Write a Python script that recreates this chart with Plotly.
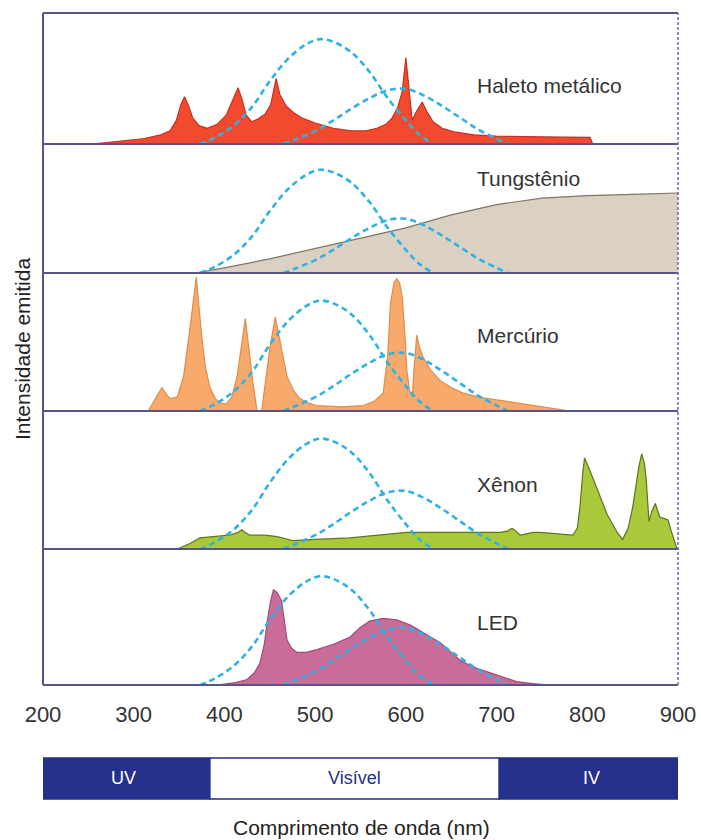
import plotly.graph_objects as go

# ---------------- data ----------------
haleto_nm = [254, 280, 310, 330, 340, 347, 352, 356, 360, 365, 372, 381, 392, 402, 409, 415, 419, 424, 430, 437,
             445, 451, 457, 461, 468, 476, 485, 500, 520, 540, 556, 568, 578, 585, 591, 596, 600, 603, 607, 611,
             618, 623, 630, 640, 655, 675, 700, 750, 803, 806]
haleto_val = [0, 0.02, 0.04, 0.07, 0.10, 0.18, 0.30, 0.36, 0.30, 0.20, 0.14, 0.12, 0.15, 0.22, 0.33, 0.43, 0.35, 0.22,
              0.17, 0.19, 0.23, 0.30, 0.50, 0.38, 0.29, 0.24, 0.20, 0.16, 0.12, 0.10, 0.10, 0.12, 0.15, 0.20, 0.28,
              0.40, 0.66, 0.45, 0.18, 0.24, 0.32, 0.25, 0.17, 0.12, 0.09, 0.07, 0.06, 0.055, 0.05, 0]

tung_nm = [368, 400, 450, 500, 550, 600, 650, 700, 750, 800, 850, 900]
tung_val = [0, 0.04, 0.11, 0.19, 0.27, 0.35, 0.45, 0.53, 0.58, 0.60, 0.61, 0.62]

merc_nm = [316, 325, 331, 336, 340, 348, 355, 362, 369, 372, 375, 379, 384, 390, 395, 402, 408, 414, 419, 423,
           427, 431, 436, 441, 445, 450, 456, 460, 464, 469, 476, 483, 492, 502, 530, 553, 565, 575, 580, 583,
           587, 590, 593, 596, 599, 601, 604, 607, 609, 612, 615, 619, 628, 638, 650, 663, 680, 700, 720, 737,
           760, 781]
merc_val = [0, 0.10, 0.17, 0.12, 0.09, 0.10, 0.25, 0.60, 0.97, 0.75, 0.54, 0.32, 0.17, 0.09, 0.06, 0.05, 0.10, 0.25,
            0.50, 0.67, 0.45, 0.22, 0, 0, 0.20, 0.45, 0.68, 0.55, 0.40, 0.25, 0.15, 0.09, 0.06, 0.04, 0.03, 0.04,
            0.07, 0.13, 0.40, 0.78, 0.93, 0.96, 0.93, 0.83, 0.55, 0.30, 0.15, 0.10, 0.30, 0.55, 0.46, 0.39, 0.29,
            0.22, 0.17, 0.13, 0.10, 0.08, 0.06, 0.04, 0.02, 0]

xen_nm = [348, 362, 373, 390, 405, 415, 419, 423, 428, 445, 458, 476, 500, 538, 570, 601, 650, 704, 712, 717,
          721, 726, 733, 740, 748, 765, 784, 789, 792, 795, 797, 801, 807, 814, 822, 833, 839, 845, 850, 853,
          857, 860, 863, 865, 868, 871, 875, 878, 880, 885, 889, 893, 896, 899]
xen_val = [0, 0.04, 0.08, 0.09, 0.10, 0.12, 0.14, 0.12, 0.10, 0.10, 0.09, 0.06, 0.07, 0.08, 0.10, 0.12, 0.12, 0.12,
           0.13, 0.15, 0.13, 0.10, 0.11, 0.12, 0.12, 0.11, 0.10, 0.15, 0.31, 0.55, 0.66, 0.60, 0.50, 0.39, 0.25,
           0.12, 0.07, 0.15, 0.30, 0.43, 0.60, 0.69, 0.62, 0.50, 0.20, 0.27, 0.33, 0.27, 0.23, 0.22, 0.21, 0.12,
           0.05, 0]

led_nm = [392, 410, 425, 433, 439, 444, 447, 451, 454, 458, 463, 466, 469, 474, 480, 490, 502, 520, 538, 549,
          560, 575, 590, 605, 620, 638, 650, 660, 675, 693, 710, 722, 740, 759]
led_val = [0, 0.015, 0.04, 0.09, 0.16, 0.30, 0.46, 0.62, 0.70, 0.68, 0.62, 0.48, 0.33, 0.27, 0.24, 0.24, 0.26,
           0.30, 0.35, 0.42, 0.47, 0.49, 0.48, 0.44, 0.38, 0.31, 0.24, 0.18, 0.13, 0.09, 0.05, 0.025, 0.01, 0]

# eye sensitivity curves (dashed), same in every panel
sens1_nm = [373, 390, 410, 430, 450, 470, 490, 505, 520, 540, 560, 580, 600, 615, 630]
sens1_val = [0, 0.05, 0.14, 0.28, 0.48, 0.65, 0.76, 0.80, 0.78, 0.70, 0.55, 0.35, 0.18, 0.07, 0]
sens2_nm = [465, 480, 500, 520, 540, 560, 580, 600, 620, 640, 660, 680, 700, 712]
sens2_val = [0, 0.04, 0.10, 0.18, 0.27, 0.35, 0.41, 0.42, 0.37, 0.29, 0.20, 0.11, 0.04, 0]

lamp_names = ["Haleto metálico", "Tungstênio", "Mercúrio", "Xênon", "LED"]
tick_vals = [200, 300, 400, 500, 600, 700, 800, 900]
band_edges = [193, 384, 703, 907]
band_labels = ["UV", "Visível", "IV"]

# ---------------- styling ----------------
series = [(haleto_nm, haleto_val), (tung_nm, tung_val), (merc_nm, merc_val), (xen_nm, xen_val), (led_nm, led_val)]
fills = ["#f24a2e", "#dad1c2", "#f8aa6c", "#a9c93a", "#c96c9a"]
edges = ["#c9301c", "#7d7565", "#df8c48", "#5e7420", "#a44a7c"]
TOP, BOT = 13, 685
H = BOT - TOP
bounds_px = [13, 144, 273, 411, 549, 685]
domains = []
for i in range(5):
    domains.append([(BOT - bounds_px[i + 1]) / H, (BOT - bounds_px[i]) / H])

FRAME = "#55558a"
DASHC = "#2fb2e2"
NAVY = "#24308c"
FONT = "Liberation Sans, Arial, sans-serif"

fig = go.Figure()
for i, ((xs, ys), fc, ec) in enumerate(zip(series, fills, edges)):
    yax = "y" if i == 0 else f"y{i+1}"
    fig.add_trace(go.Scatter(x=xs, y=ys, yaxis=yax, xaxis="x", mode="lines", fill="tozeroy",
                             fillcolor=fc, line=dict(color=ec, width=1.2), hoverinfo="skip"))
for i in range(5):
    yax = "y" if i == 0 else f"y{i+1}"
    for xs, ys in [(sens1_nm, sens1_val), (sens2_nm, sens2_val)]:
        fig.add_trace(go.Scatter(x=xs, y=ys, yaxis=yax, xaxis="x", mode="lines",
                                 line=dict(color=DASHC, width=2.6, dash="6px,4px", shape="spline", smoothing=1.0),
                                 hoverinfo="skip"))

layout = dict(
    width=701, height=840,
    margin=dict(l=43, r=23, t=13, b=155, autoexpand=False),
    paper_bgcolor="white", plot_bgcolor="white",
    showlegend=False,
    xaxis=dict(range=[200, 900], anchor="y5", domain=[0, 1], showgrid=False, zeroline=False,
               showline=False, tickvals=tick_vals, ticks="", ticklabelstandoff=14, automargin=False,
               tickfont=dict(family=FONT, size=22, color="#333333")),
)
for i in range(5):
    key = "yaxis" if i == 0 else f"yaxis{i+1}"
    layout[key] = dict(domain=domains[i], range=[0, 1], anchor="x", showgrid=False, zeroline=False,
                       showline=False, showticklabels=False, ticks="", automargin=False)
fig.update_layout(**layout)

shapes = []
for b in bounds_px:
    yp = (BOT - b) / H
    shapes.append(dict(type="line", xref="paper", yref="paper", x0=0, x1=1, y0=yp, y1=yp,
                       line=dict(color=FRAME, width=2), layer="above"))
shapes.append(dict(type="line", xref="paper", yref="paper", x0=0, x1=0, y0=0, y1=1,
                   line=dict(color=FRAME, width=2), layer="above"))
shapes.append(dict(type="line", xref="paper", yref="paper", x0=1, x1=1, y0=0, y1=1,
                   line=dict(color="#6a6ab8", width=1.5, dash="3px,2px"), layer="above"))
by0 = -(758 - BOT) / H
by1 = -(799 - BOT) / H
band_fill = [NAVY, "white", NAVY]
for k in range(3):
    shapes.append(dict(type="rect", xref="x", yref="paper", x0=band_edges[k], x1=band_edges[k + 1],
                       y0=by1, y1=by0, fillcolor=band_fill[k], line=dict(color=NAVY, width=1.5)))
fig.update_layout(shapes=shapes)

ann = []
label_y_px = [86, 178, 335, 485, 622]
for name, ypx in zip(lamp_names, label_y_px):
    ann.append(dict(text=name, x=676, xref="x", y=(BOT - ypx) / H, yref="paper", xanchor="left",
                    yanchor="middle", showarrow=False, font=dict(family=FONT, size=21, color="#333333")))
band_text_col = ["white", NAVY, "white"]
for k in range(3):
    ann.append(dict(text=band_labels[k], x=(band_edges[k] + band_edges[k + 1]) / 2, xref="x",
                    y=(by0 + by1) / 2, yref="paper", showarrow=False, xanchor="center", yanchor="middle",
                    font=dict(family=FONT, size=18, color=band_text_col[k])))
ann.append(dict(text="Intensidade emitida", x=(22 - 43) / 635, xref="paper", y=(BOT - 349) / H, yref="paper",
                textangle=-90, showarrow=False, xanchor="center", yanchor="middle",
                font=dict(family=FONT, size=21, color="#222222")))
ann.append(dict(text="Comprimento de onda (nm)", x=(362 - 43) / 635, xref="paper", y=-(827 - BOT) / H,
                yref="paper", showarrow=False, xanchor="center", yanchor="middle",
                font=dict(family=FONT, size=21, color="#222222")))
fig.update_layout(annotations=ann, hovermode=False)

fig.write_html("out.html", config=dict(displayModeBar=False, staticPlot=True),
               post_script="document.body.style.margin='0px';document.body.style.overflow='hidden';")
